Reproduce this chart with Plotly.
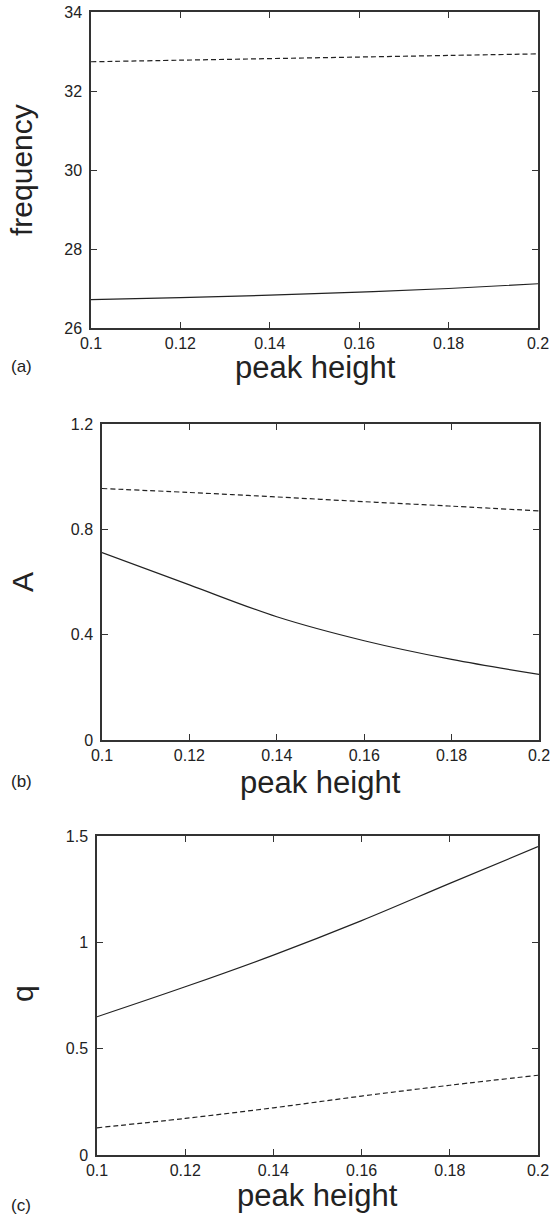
import plotly.graph_objects as go

peak_height = [0.1, 0.12, 0.14, 0.16, 0.18, 0.2]
freq_solid = [26.72, 26.77, 26.83, 26.91, 27.00, 27.12]
freq_dashed = [32.74, 32.78, 32.82, 32.86, 32.90, 32.94]
A_solid = [0.712, 0.589, 0.468, 0.377, 0.306, 0.249]
A_dashed = [0.955, 0.940, 0.923, 0.905, 0.888, 0.870]
q_solid = [0.650, 0.791, 0.940, 1.102, 1.277, 1.450]
q_dashed = [0.128, 0.172, 0.222, 0.277, 0.328, 0.375]

x_ticks = [0.1, 0.12, 0.14, 0.16, 0.18, 0.2]
x_ticktext = ["0.1", "0.12", "0.14", "0.16", "0.18", "0.2"]
ya_ticks = [26, 28, 30, 32, 34]
yb_ticks = [0, 0.4, 0.8, 1.2]
yb_text = ["0", "0.4", "0.8", "1.2"]
yc_ticks = [0, 0.5, 1, 1.5]
yc_text = ["0", "0.5", "1", "1.5"]

W, H = 557, 1216
FONT = "Liberation Sans, Arial, Helvetica, sans-serif"
INK = "#222222"

def px(x):
    return x / W

def py(y):
    return 1 - y / H

fig = go.Figure()

panels = [
    ("x", "y", freq_solid, freq_dashed),
    ("x2", "y2", A_solid, A_dashed),
    ("x3", "y3", q_solid, q_dashed),
]
for xa, ya, s, d in panels:
    fig.add_trace(go.Scatter(x=peak_height, y=s, xaxis=xa, yaxis=ya, mode="lines",
                             line=dict(color=INK, width=1.2, shape="spline"), showlegend=False))
    fig.add_trace(go.Scatter(x=peak_height, y=d, xaxis=xa, yaxis=ya, mode="lines",
                             line=dict(color=INK, width=1.2, dash="5px,3px", shape="spline"),
                             showlegend=False))

axis_common = dict(
    showline=True, linecolor="#333333", linewidth=1.5, mirror="ticks",
    ticks="inside", ticklen=6, tickwidth=1, tickcolor="#333333",
    showgrid=False, zeroline=False, automargin=False,
    tickfont=dict(family=FONT, size=16, color=INK),
)

boxes = [
    (91, 538, 12, 328),
    (102, 539, 424, 740),
    (97, 538, 836, 1155),
]

for i, (l, r, t, b) in enumerate(boxes):
    suffix = "" if i == 0 else str(i + 1)
    fig.layout["xaxis" + suffix] = dict(
        axis_common, domain=[px(l), px(r)], range=[0.1, 0.2],
        tickvals=x_ticks, ticktext=x_ticktext,
        anchor="y" + suffix, ticklabelstandoff=0,
    )

fig.layout["yaxis"] = dict(axis_common, domain=[py(328), py(12)], range=[26, 34],
                           tickvals=ya_ticks, anchor="x", ticklabelstandoff=4)
fig.layout["yaxis2"] = dict(axis_common, domain=[py(740), py(424)], range=[0, 1.2],
                            tickvals=yb_ticks, ticktext=yb_text, anchor="x2", ticklabelstandoff=4)
fig.layout["yaxis3"] = dict(axis_common, domain=[py(1155), py(836)], range=[0, 1.5],
                            tickvals=yc_ticks, ticktext=yc_text, anchor="x3", ticklabelstandoff=4)

annotations = []
def ann(text, x, y, size, angle=0):
    annotations.append(dict(text=text, x=px(x), y=py(y), xref="paper", yref="paper",
                            showarrow=False, xanchor="center", yanchor="middle",
                            textangle=angle, font=dict(family=FONT, size=size, color=INK)))

ann("peak height", 315, 368, 31)
ann("peak height", 320, 782, 31)
ann("peak height", 317, 1195, 31)
ann("frequency", 22, 170, 30, -90)
ann("A", 22, 582, 30, -90)
ann("q", 22, 994, 30, -90)
ann("(a)", 21, 367, 17)
ann("(b)", 21, 781, 17)
ann("(c)", 21, 1205, 17)

fig.update_layout(
    width=W, height=H, margin=dict(l=0, r=0, t=0, b=0, autoexpand=False),
    paper_bgcolor="white", plot_bgcolor="white",
    annotations=annotations,
)

# Remove the browser's default 8px body margin so the figure fills the window.
fig.write_html("out.html", config={"displayModeBar": False},
               post_script="document.body.style.margin='0px';")
